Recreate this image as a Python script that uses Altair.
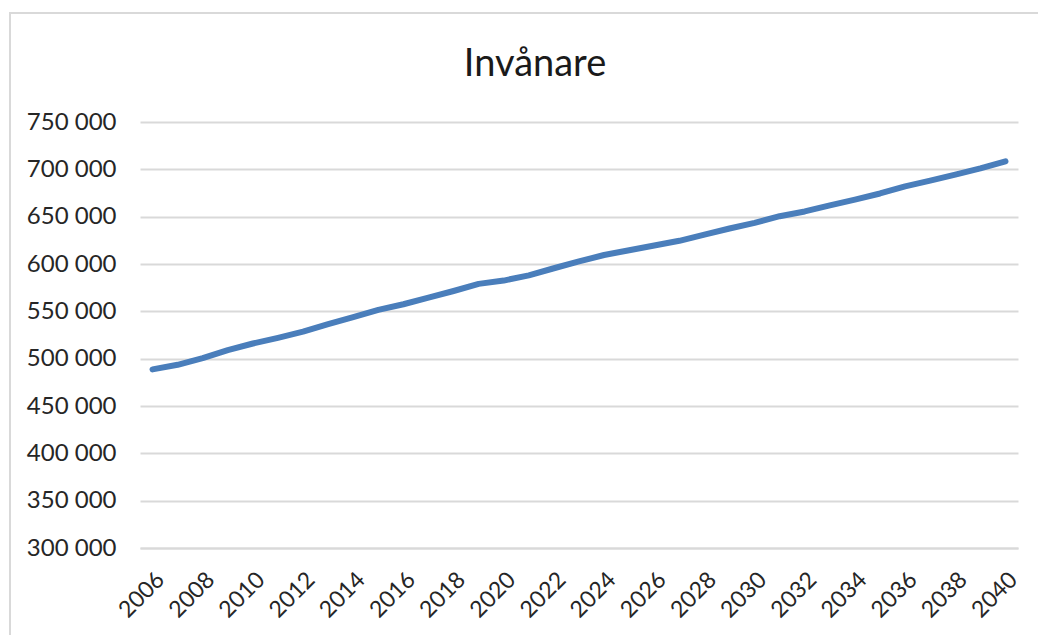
import altair as alt
import pandas as pd

years = list(range(2006, 2041))
invanare = [
    488700, 493500, 500500, 509000, 516000, 522000, 528500, 536500, 544000, 551500,
    557500, 564500, 571500, 579000, 582500, 588000, 595500, 602700, 609500, 614500,
    619500, 624500, 631000, 637500, 643500, 650500, 655500, 662000, 668000, 674500,
    682000, 688000, 694500, 701000, 708500,
]
y_ticks = [300000, 350000, 400000, 450000, 500000, 550000, 600000, 650000, 700000, 750000]
x_ticks = [y for y in years if y % 2 == 0]
title_text = "Invånare"

df = pd.DataFrame({"year": years, "value": invanare})

FONT = "Lato"
GRID = "#d9d9d9"
TEXT = "#262626"

frame = alt.Chart(alt.Data(values=[{"a": 1}])).mark_rect(
    fillOpacity=0, stroke=GRID, strokeWidth=2, clip=False
).encode(
    x=alt.value(-130), x2=alt.value(1200),
    y=alt.value(-109), y2=alt.value(800),
)

title = alt.Chart(alt.Data(values=[{"t": title_text}])).mark_text(
    font=FONT, fontSize=38, fontWeight="normal", color="#1a1a1a",
    align="center", baseline="alphabetic",
).encode(
    text="t:N", x=alt.value(395), y=alt.value(-46),
)

line = alt.Chart(df).mark_line(
    color="#4A7EBB", strokeWidth=6, strokeCap="round", strokeJoin="round"
).encode(
    x=alt.X(
        "year:O",
        scale=alt.Scale(type="point", padding=0.5),
        axis=alt.Axis(
            values=x_ticks, labelAngle=315, title=None, ticks=False, tickSize=0,
            labelPadding=20, labelFont=FONT, labelFontSize=23, labelColor=TEXT,
            domainColor=GRID, domainWidth=2, grid=False,
        ),
    ),
    y=alt.Y(
        "value:Q",
        scale=alt.Scale(domain=[300000, 750000], nice=False, zero=False),
        axis=alt.Axis(
            values=y_ticks, title=None, ticks=False, tickSize=0, domain=False,
            labelPadding=24, labelFont=FONT, labelFontSize=24, labelColor=TEXT,
            labelExpr="replace(format(datum.value, ',d'), ',', ' ')",
            gridColor=GRID, gridWidth=2,
        ),
    ),
)

chart = alt.layer(frame, line, title).properties(
    width=878,
    height=426,
    padding={"left": 132, "top": 114, "right": 20, "bottom": 87},
    autosize=alt.AutoSizeParams(type="none"),
).configure_view(stroke=None)

chart.save("out.html", embed_options={"renderer": "svg", "actions": False})
